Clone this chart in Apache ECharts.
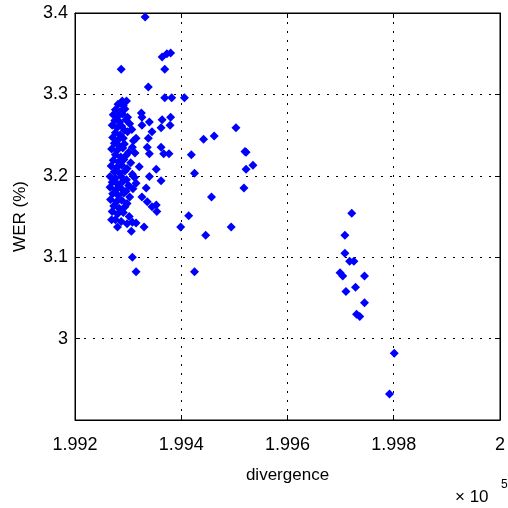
<!DOCTYPE html>
<html>
<head>
<meta charset="utf-8">
<script src="https://cdn.jsdelivr.net/npm/echarts@6/dist/echarts.min.js"></script>
<style>
html, body { margin: 0; padding: 0; background: #fff; }
#main { width: 508px; height: 508px; }
</style>
</head>
<body>
<div id="main"></div>
<script>
// divergence (raw, axis shows x 10^5) vs WER (%)
var xTicks = [199200, 199400, 199600, 199800, 200000];
var yTicks = [3, 3.1, 3.2, 3.3, 3.4];

// dense group at the left
var clusterPts = [
    [199281,3.288],[199291,3.286],[199276,3.281],[199285,3.279],[199294,3.282],
    [199272,3.275],[199280,3.273],[199289,3.276],[199299,3.272],
    [199275,3.268],[199284,3.266],[199296,3.269],[199303,3.264],
    [199270,3.262],[199279,3.259],[199288,3.261],[199293,3.256],
    [199276,3.253],[199285,3.250],[199299,3.254],[199307,3.257],
    [199271,3.247],[199281,3.244],[199291,3.246],[199310,3.243],
    [199274,3.240],[199283,3.237],[199293,3.239],[199315,3.246],
    [199269,3.233],[199279,3.231],[199290,3.234],[199301,3.229],[199308,3.235],
    [199276,3.226],[199286,3.223],[199296,3.225],[199313,3.228],
    [199272,3.219],[199282,3.217],[199292,3.220],[199305,3.216],
    [199268,3.212],[199278,3.210],[199288,3.213],[199298,3.209],[199321,3.211],
    [199274,3.205],[199284,3.203],[199294,3.206],[199308,3.202],
    [199266,3.199],[199276,3.197],[199287,3.199],[199297,3.195],[199312,3.198],
    [199270,3.192],[199280,3.190],[199290,3.193],[199301,3.188],[199315,3.191],
    [199266,3.186],[199277,3.183],[199286,3.185],[199296,3.181],[199309,3.184],
    [199271,3.178],[199281,3.176],[199292,3.179],[199303,3.174],
    [199267,3.171],[199278,3.168],[199288,3.170],[199298,3.166],
    [199273,3.163],[199283,3.160],[199294,3.162],
    [199270,3.156],[199280,3.153],[199291,3.155],[199302,3.150],
    [199276,3.146],[199287,3.144],[199298,3.141]
];

// scattered points around the dense group
var spreadPts = [
    [199332,3.395],[199287,3.331],[199364,3.346],[199373,3.350],[199380,3.351],
    [199369,3.331],[199338,3.309],[199369,3.296],[199382,3.296],[199406,3.296],
    [199297,3.292],[199289,3.292],[199325,3.277],[199326,3.272],[199340,3.266],
    [199326,3.262],[199380,3.272],[199379,3.262],[199364,3.269],[199362,3.259],
    [199345,3.254],[199503,3.259],[199442,3.245],[199462,3.249],[199338,3.246],
    [199336,3.235],[199362,3.235],[199520,3.230],[199522,3.229],[199535,3.213],
    [199522,3.208],[199419,3.226],[199340,3.227],[199367,3.227],[199377,3.227],
    [199425,3.203],[199353,3.208],[199340,3.199],[199362,3.194],[199518,3.185],
    [199457,3.174],[199334,3.185],[199326,3.174],[199336,3.168],[199345,3.162],
    [199353,3.164],[199354,3.156],[199414,3.151],[199399,3.137],[199446,3.127],
    [199494,3.137],[199330,3.137],[199306,3.132],[199308,3.143],[199315,3.142],
    [199280,3.137],[199269,3.146],[199308,3.100],[199315,3.082],[199425,3.082]
];

// group near 1.997 - 1.998
var farPts = [
    [199721,3.154],[199708,3.127],[199708,3.105],[199717,3.095],[199725,3.095],
    [199699,3.081],[199704,3.077],[199745,3.077],[199710,3.058],[199728,3.063],
    [199745,3.044],[199730,3.030],[199736,3.027],[199801,2.982],[199792,2.932]
];

var chart = echarts.init(document.getElementById('main'));
var font = 'Liberation Sans, Arial, sans-serif';

var option = {
    animation: false,
    backgroundColor: '#fff',
    grid: {
        left: 75, right: 3, top: 13, bottom: 88,
        show: true, borderColor: '#000', borderWidth: 1
    },
    xAxis: [{
        type: 'value',
        min: xTicks[0], max: xTicks[xTicks.length - 1], interval: 200,
        name: 'divergence', nameLocation: 'middle', nameGap: 47,
        nameTextStyle: { color: '#000', fontSize: 17, fontFamily: font },
        axisLine: { show: true, lineStyle: { color: '#000' } },
        axisTick: { show: true, inside: true, length: 5, lineStyle: { color: '#000' } },
        axisLabel: {
            margin: 16, color: '#000', fontSize: 18, fontFamily: font,
            formatter: function (v) { return String(+(v / 1e5).toFixed(3)); }
        },
        splitLine: { show: true, lineStyle: { color: '#000', type: [2, 7], width: 1 } }
    }, {
        type: 'value', position: 'top',
        min: xTicks[0], max: xTicks[xTicks.length - 1], interval: 200,
        axisLine: { show: true, lineStyle: { color: '#000' } },
        axisTick: { show: true, inside: true, length: 5, lineStyle: { color: '#000' } },
        axisLabel: { show: false }, splitLine: { show: false }
    }],
    yAxis: [{
        type: 'value',
        min: 2.9, max: yTicks[yTicks.length - 1], interval: 0.1,
        name: 'WER (%)', nameLocation: 'middle', nameGap: 46,
        nameTextStyle: { color: '#000', fontSize: 17, fontFamily: font },
        axisLine: { show: true, lineStyle: { color: '#000' } },
        axisTick: { show: true, inside: true, length: 5, lineStyle: { color: '#000' } },
        axisLabel: {
            margin: 7, color: '#000', fontSize: 18, fontFamily: font,
            showMinLabel: false,
            formatter: function (v) { return String(+v.toFixed(1)); }
        },
        splitLine: { show: true, lineStyle: { color: '#000', type: [2, 7], width: 1 } }
    }, {
        type: 'value', position: 'right',
        min: 2.9, max: yTicks[yTicks.length - 1], interval: 0.1,
        axisLine: { show: true, lineStyle: { color: '#000' } },
        axisTick: { show: true, inside: true, length: 5, lineStyle: { color: '#000' } },
        axisLabel: { show: false }, splitLine: { show: false }
    }],
    graphic: [
        { type: 'text', left: 455, top: 489,
          style: { text: '\u00d7 10', fill: '#000', font: '17px ' + font } },
        { type: 'text', left: 501, top: 479,
          style: { text: '5', fill: '#000', font: '12px ' + font } }
    ],
    series: [{
        type: 'scatter',
        symbol: 'diamond',
        symbolSize: 9,
        itemStyle: { color: '#0000ff', opacity: 1 },
        data: clusterPts.concat(spreadPts, farPts)
    }]
};

chart.setOption(option);
</script>
</body>
</html>
